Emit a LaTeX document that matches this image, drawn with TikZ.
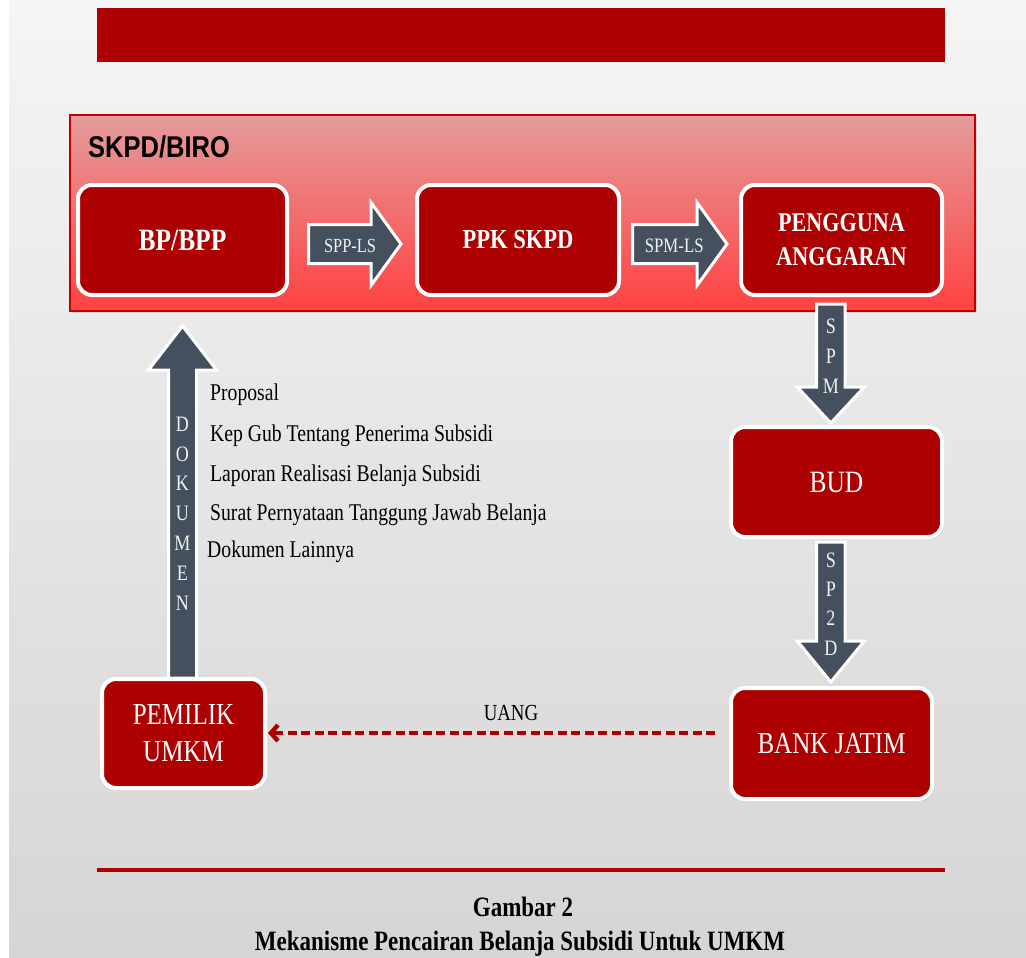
\documentclass[tikz,border=0pt]{standalone}
\usepackage{fontspec}
\setmainfont{Liberation Serif}
\newfontfamily\tnr[FakeStretch=0.82]{Liberation Serif}
\newfontfamily\arl[FakeStretch=0.85]{Liberation Sans}
\usetikzlibrary{calc,arrows.meta,shadows}
\definecolor{bred}{HTML}{AD0000}
\definecolor{slate}{HTML}{44505E}
\definecolor{ctop}{HTML}{E49C9C}
\definecolor{cbot}{HTML}{FF4141}
\definecolor{cedge}{HTML}{C00000}
\definecolor{bgtop}{HTML}{F5F5F5}
\definecolor{bgbot}{HTML}{D5D5D5}
\tikzset{
  redbox/.style={draw=white, line width=4pt, fill=bred, rounded corners=14pt,
    text=white, align=center, inner sep=0pt,
    drop shadow={shadow xshift=1.5pt, shadow yshift=-2pt, opacity=0.3}},
  blk/.style={draw=white, line width=3pt, fill=slate, line join=miter},
  blklabel/.style={text=white!92!slate, inner sep=0pt, align=center},
  listtxt/.style={anchor=base west, inner sep=0pt, text=black, font=\tnr\fontsize{24}{24}\selectfont},
  uang/.style={draw=bred, line width=4.5pt, dash pattern=on 9pt off 4.5pt,
    -{Straight Barb[length=7pt, width=16pt]}, shorten >=1pt},
}
\newcommand\rarrowshape[2]{%
  \draw[blk] ($(#1)+(0,-19.5)$) -- ($(#2)+(-30,-19.5)$) -- ($(#2)+(-30,-41.5)$) -- (#2)
    -- ($(#2)+(-30,41.5)$) -- ($(#2)+(-30,19.5)$) -- ($(#1)+(0,19.5)$) -- cycle;}
\newcommand\darrowshape[3]{%
  \draw[blk] ($(#1)+(-14.3,0)$) -- ($(#2)+(-14.3,-#3)$) -- ($(#2)+(-33.5,-#3)$) -- (#2)
    -- ($(#2)+(33.5,-#3)$) -- ($(#2)+(14.3,-#3)$) -- ($(#1)+(14.3,0)$) -- cycle;}
\newcommand\uarrowshape[3]{%
  \draw[blk] ($(#1)+(-14,0)$) -- ($(#2)+(-14,#3)$) -- ($(#2)+(-34,#3)$) -- (#2)
    -- ($(#2)+(34,#3)$) -- ($(#2)+(14,#3)$) -- ($(#1)+(14,0)$) -- cycle;}
\begin{document}
\begin{tikzpicture}[x=1pt, y=-1pt]
\useasboundingbox (0,0) rectangle (1026,958);
% background
\fill[white] (0,0) rectangle (1026,958);
\shade[top color=bgtop, bottom color=bgbot] (9,0) rectangle (1026,958);
% top bar
\fill[bred] (97,8) rectangle (945,62);
% container
\shade[top color=ctop, bottom color=cbot, draw=cedge, line width=1.5pt,
  drop shadow={shadow xshift=1.5pt, shadow yshift=-2pt, opacity=0.25}] (70,115) rectangle (975,311);
\node[anchor=base west, inner sep=0pt, font=\arl\bfseries\fontsize{30}{30}\selectfont] (skpd) at (88,157) {SKPD/BIRO};
% boxes
\node[redbox, minimum width=209pt, minimum height=110pt, font=\tnr\bfseries\fontsize{31}{31}\selectfont] (bp) at (182.5,240) {BP/BPP};
\node[redbox, minimum width=202pt, minimum height=110pt, font=\tnr\bfseries\fontsize{27.5}{27.5}\selectfont] (ppk) at (518,240) {PPK SKPD};
\node[redbox, minimum width=201pt, minimum height=110pt, font=\tnr\bfseries\fontsize{27}{34}\selectfont] (pa) at (841.5,240) {PENGGUNA\\ANGGARAN};
\node[redbox, minimum width=211pt, minimum height=110pt, font=\tnr\fontsize{31}{31}\selectfont] (bud) at (836.5,482) {BUD};
\node[redbox, minimum width=201pt, minimum height=111pt, font=\tnr\fontsize{30.5}{30.5}\selectfont] (bank) at (831.5,743.5) {BANK JATIM};
\node[redbox, minimum width=163pt, minimum height=109pt, font=\tnr\fontsize{30.5}{37}\selectfont] (pemilik) at (183.5,733.5) {PEMILIK\\UMKM};
% horizontal block arrows
\path ($(bp.east)+(19.5,4)$) coordinate (a1s) ($(ppk.west)+(-14,4)$) coordinate (a1e);
\rarrowshape{a1s}{a1e}
\node[blklabel, anchor=base, font=\tnr\fontsize{20}{20}\selectfont] (spp) at ($(a1s)+(41.5,8.7)$) {SPP-LS};
\path ($(ppk.east)+(11.5,4)$) coordinate (a2s) ($(pa.west)+(-12,4)$) coordinate (a2e);
\rarrowshape{a2s}{a2e}
\node[blklabel, anchor=base, font=\tnr\fontsize{20.5}{20.5}\selectfont] (spmls) at ($(a2s)+(41.7,8.7)$) {SPM-LS};
% vertical block arrows
\path ($(pa.south)+(-10.7,7)$) coordinate (a3s) ($(bud.north)+(-5.7,-2)$) coordinate (a3e);
\darrowshape{a3s}{a3e}{36}
\node[blklabel, font=\tnr\fontsize{22}{30.3}\selectfont] (spm) at (830.8,356.3) {S\\P\\M};
\path ($(bud.south)+(-5.7,3)$) coordinate (a4s) ($(bank.north)+(-0.7,-4)$) coordinate (a4e);
\darrowshape{a4s}{a4e}{41}
\node[blklabel, font=\tnr\fontsize{22}{29.3}\selectfont] (sp2d) at (830.8,604) {S\\P\\2\\D};
\path ($(pemilik.north)+(-1,1)$) coordinate (a5s) ($(bp.south)+(0,29)$) coordinate (a5e);
\uarrowshape{a5s}{a5e}{44}
\node[blklabel, font=\tnr\fontsize{22}{29.8}\selectfont] (dok) at (182.5,513.5) {D\\O\\K\\U\\M\\E\\N};
% document list
\node[listtxt] (l1) at (210,400) {Proposal};
\node[listtxt] (l2) at (210,441) {Kep Gub Tentang Penerima Subsidi};
\node[listtxt] (l3) at (210,481.5) {Laporan Realisasi Belanja Subsidi};
\node[listtxt] (l4) at (210,520) {Surat Pernyataan Tanggung Jawab Belanja};
\node[listtxt] (l5) at (207,557) {Dokumen Lainnya};
% money flow
\path ($(bank.west)+(-14,-10.5)$) coordinate (u1);
\draw[uang] (u1) -- (u1 -| pemilik.east);
\node[anchor=base, inner sep=0pt, font=\tnr\fontsize{23}{23}\selectfont] (uanglbl) at (511,720) {UANG};
% bottom rule and caption
\draw[bred, line width=4pt] (97,870) -- (945,870);
\node[anchor=base, inner sep=0pt, font=\tnr\bfseries\fontsize{28}{28}\selectfont] (cap1) at (523,916) {Gambar 2};
\node[anchor=base, inner sep=0pt, font=\tnr\bfseries\fontsize{28}{28}\selectfont] (cap2) at (520,950) {Mekanisme Pencairan Belanja Subsidi Untuk UMKM};
\end{tikzpicture}
\end{document}
